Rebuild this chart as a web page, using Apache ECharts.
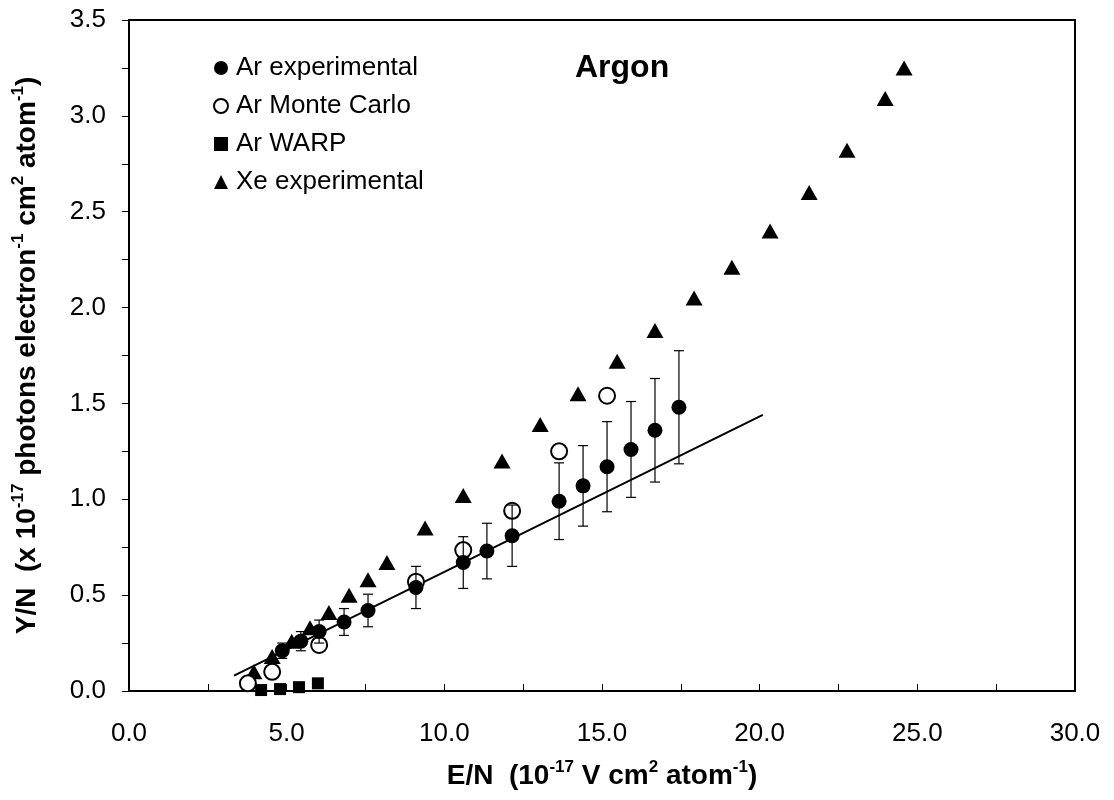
<!DOCTYPE html>
<html>
<head>
<meta charset="utf-8">
<script src="https://cdn.jsdelivr.net/npm/echarts@6/dist/echarts.min.js"></script>
<style>html,body{margin:0;padding:0;background:#fff;}#c{width:1114px;height:800px;}</style>
</head>
<body>
<div id="c"></div>
<script>
// ---- data ----
const arExpX   = [4.86, 5.45, 6.03, 6.82, 7.58, 9.10, 10.60, 11.35, 12.15, 13.64, 14.40, 15.16, 15.92, 16.68, 17.44];
const arExpY   = [0.21, 0.26, 0.31, 0.36, 0.42, 0.54, 0.67, 0.73, 0.81, 0.99, 1.07, 1.17, 1.26, 1.36, 1.48];
const arExpErr = [0.04, 0.05, 0.06, 0.07, 0.085, 0.11, 0.135, 0.145, 0.16, 0.20, 0.21, 0.235, 0.25, 0.27, 0.295];

const arMcX = [3.77, 4.54, 6.03, 9.10, 10.60, 12.15, 13.64, 15.16];
const arMcY = [0.04, 0.10, 0.24, 0.57, 0.735, 0.94, 1.25, 1.54];

const arWarpX = [4.19, 4.79, 5.39, 5.99];
const arWarpY = [0.005, 0.01, 0.02, 0.04];

const xeX = [3.96, 4.54, 5.16, 5.74, 6.34, 6.98, 7.58, 8.18, 9.39, 10.60, 11.83, 13.04, 14.24, 15.48, 16.68, 17.92, 19.12, 20.33, 21.57, 22.77, 23.98, 24.58];
const xeY = [0.10, 0.18, 0.26, 0.33, 0.41, 0.50, 0.58, 0.67, 0.85, 1.02, 1.20, 1.39, 1.55, 1.72, 1.88, 2.05, 2.21, 2.40, 2.60, 2.82, 3.09, 3.25];

const fitX = [3.33, 20.10];
const fitY = [0.08, 1.44];

const seriesNames = ['Ar experimental', 'Ar Monte Carlo', 'Ar WARP', 'Xe experimental'];
const xTicks = {min: 0, max: 30, step: 5};
const yTicks = {min: 0, max: 3.5, step: 0.5};

// ---- build ----
const zip = (a, b) => a.map((v, i) => [v, b[i]]);
const zip3 = (a, b, c) => a.map((v, i) => [v, b[i], c[i]]);
const FONT = 'Liberation Sans, Arial, sans-serif';

const chart = echarts.init(document.getElementById('c'), null, {renderer: 'canvas'});

const supRich = {
  b: {fontSize: 28, fontWeight: 'bold', fontFamily: FONT, color: '#000', lineHeight: 34},
  s: {fontSize: 17, fontWeight: 'bold', fontFamily: FONT, color: '#000', verticalAlign: 'top', lineHeight: 34, padding: [0, 0, 12, 0]}
};

const option = {
  backgroundColor: '#fff',
  animation: false,
  grid: {left: 129, right: 39, top: 20, bottom: 109, show: true, borderColor: '#000', borderWidth: 2, backgroundColor: 'transparent'},
  legend: {
    orient: 'vertical', left: 208, top: 50, itemGap: 12, itemWidth: 14, itemHeight: 14,
    textStyle: {fontSize: 26, fontFamily: FONT, color: '#000', padding: [0, 0, 0, 3]},
    data: [
      {name: seriesNames[0], icon: 'circle'},
      {name: seriesNames[1], icon: 'circle'},
      {name: seriesNames[2], icon: 'rect'},
      {name: seriesNames[3], icon: 'triangle'}
    ]
  },
  graphic: [{
    type: 'text', left: 575, top: 52,
    style: {text: 'Argon', font: 'bold 32px ' + FONT, fill: '#000'}
  }],
  xAxis: {
    type: 'value', min: xTicks.min, max: xTicks.max, interval: xTicks.step,
    axisLine: {lineStyle: {color: '#000', width: 2}},
    axisTick: {inside: true, length: 7, lineStyle: {color: '#000'}},
    minorTick: {show: true, splitNumber: 2, length: 7, lineStyle: {color: '#000'}},
    splitLine: {show: false},
    axisLabel: {fontSize: 26, fontFamily: FONT, color: '#000', margin: 30, formatter: v => v.toFixed(1)},
    nameLocation: 'middle', nameGap: 68,
    name: '{b|E/N  (10}{s|-17}{b| V cm}{s|2}{b| atom}{s|-1}{b|)}',
    nameTextStyle: {rich: supRich}
  },
  yAxis: {
    type: 'value', min: yTicks.min, max: yTicks.max, interval: yTicks.step,
    axisLine: {lineStyle: {color: '#000', width: 2}},
    axisTick: {inside: false, length: 7, lineStyle: {color: '#000'}},
    minorTick: {show: true, splitNumber: 2, length: 7, lineStyle: {color: '#000'}},
    splitLine: {show: false},
    axisLabel: {fontSize: 26, fontFamily: FONT, color: '#000', margin: 23, formatter: v => v.toFixed(1)},
    nameLocation: 'middle', nameGap: 85, nameRotate: 90,
    name: '{b|Y/N  (x 10}{s|-17}{b| photons electron}{s|-1}{b| cm}{s|2}{b| atom}{s|-1}{b|)}',
    nameTextStyle: {rich: supRich}
  },
  series: [
    {
      name: 'fit', type: 'line', data: zip(fitX, fitY), showSymbol: false, symbol: 'none',
      lineStyle: {color: '#000', width: 2}, z: 3, silent: true
    },
    {
      name: seriesNames[3], type: 'scatter', symbol: 'triangle', symbolSize: [17, 15],
      data: zip(xeX, xeY), itemStyle: {color: '#000', opacity: 1}, z: 2
    },
    {
      name: seriesNames[1], type: 'scatter', symbol: 'circle', symbolSize: 16,
      data: zip(arMcX, arMcY), itemStyle: {color: '#fff', borderColor: '#000', borderWidth: 2, opacity: 1}, z: 3
    },
    {
      name: 'errors', type: 'custom', data: zip3(arExpX, arExpY, arExpErr), z: 4, silent: true,
      renderItem: function (params, api) {
        const x = api.value(0), y = api.value(1), e = api.value(2);
        const t = api.coord([x, y + e]), b = api.coord([x, y - e]);
        const hw = 5, st = {stroke: '#000', lineWidth: 1.2};
        return {type: 'group', children: [
          {type: 'line', shape: {x1: t[0], y1: t[1], x2: b[0], y2: b[1]}, style: st},
          {type: 'line', shape: {x1: t[0] - hw, y1: t[1], x2: t[0] + hw, y2: t[1]}, style: st},
          {type: 'line', shape: {x1: b[0] - hw, y1: b[1], x2: b[0] + hw, y2: b[1]}, style: st}
        ]};
      }
    },
    {
      name: seriesNames[0], type: 'scatter', symbol: 'circle', symbolSize: 15,
      data: zip(arExpX, arExpY), itemStyle: {color: '#000', opacity: 1}, z: 5
    },
    {
      name: seriesNames[2], type: 'scatter', symbol: 'rect', symbolSize: 12,
      data: zip(arWarpX, arWarpY), itemStyle: {color: '#000', opacity: 1}, z: 5
    }
  ]
};
chart.setOption(option);
</script>
</body>
</html>
